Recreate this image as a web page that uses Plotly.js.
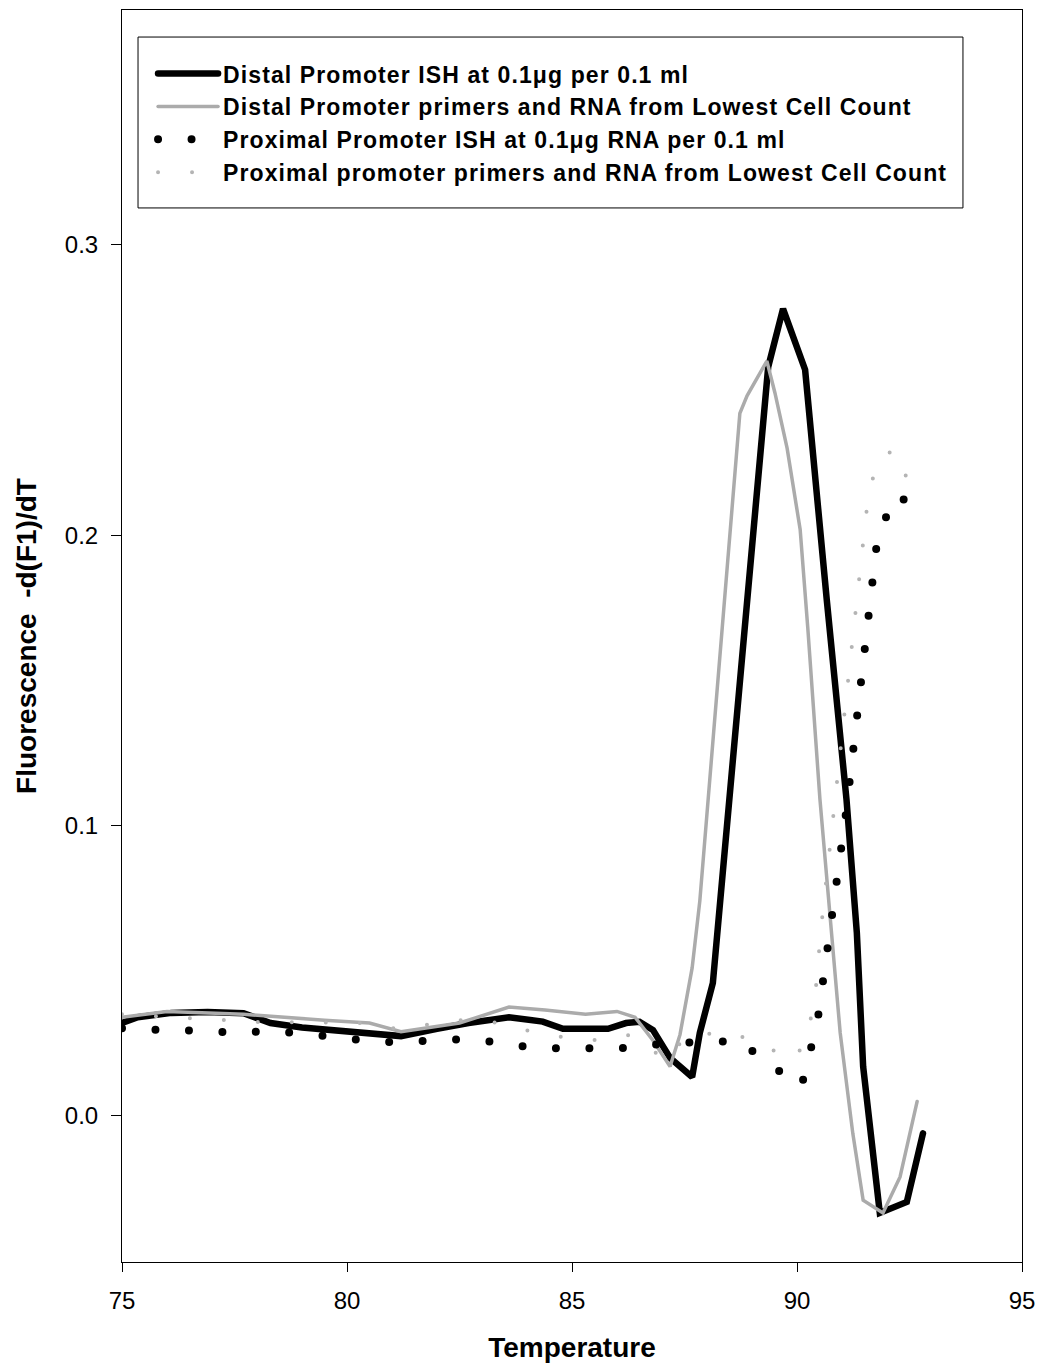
<!DOCTYPE html>
<html>
<head>
<meta charset="utf-8">
<script src="https://cdn.plot.ly/plotly-3.0.1.min.js"></script>
<style>
  html, body { margin: 0; padding: 0; background: #fff; }
  #chart { width: 1037px; height: 1365px; }
  path.js-line { stroke-linecap: round; }
  .legendtext { letter-spacing: 1.1px; }
</style>
</head>
<body>
<div id="chart"></div>
<script>
// Series 1: Distal Promoter ISH at 0.1 µg per 0.1 ml
const distalIshTemp = [75.0, 75.35, 76.1, 76.9, 77.7, 78.3, 79.0, 79.8, 80.5, 81.2, 82.0, 82.7, 83.6, 84.35, 84.8, 85.8, 86.2, 86.5, 86.8, 87.18, 87.67, 87.84, 88.13, 89.36, 89.69, 90.18, 90.66, 90.93, 91.1, 91.33, 91.47, 91.84, 92.44, 92.8];
const distalIshVal  = [0.032, 0.034, 0.0355, 0.0358, 0.0354, 0.032, 0.0305, 0.0296, 0.0285, 0.0275, 0.030, 0.032, 0.034, 0.0325, 0.030, 0.030, 0.032, 0.0324, 0.0296, 0.020, 0.0134, 0.0286, 0.0458, 0.258, 0.278, 0.257, 0.178, 0.132, 0.109, 0.063, 0.017, -0.0334, -0.0296, -0.006];

// Series 2: Distal Promoter primers and RNA from Lowest Cell Count
const distalLowTemp = [75.0, 76.0, 77.7, 78.5, 79.5, 80.5, 81.2, 82.5, 83.6, 84.4, 85.3, 86.0, 86.4, 86.8, 87.18, 87.4, 87.67, 87.84, 88.4, 88.73, 88.89, 89.33, 89.51, 89.78, 90.07, 90.24, 90.51, 90.8, 90.96, 91.24, 91.47, 91.91, 92.29, 92.67];
const distalLowVal  = [0.034, 0.036, 0.035, 0.034, 0.033, 0.032, 0.029, 0.032, 0.0375, 0.0365, 0.035, 0.036, 0.034, 0.026, 0.017, 0.028, 0.051, 0.074, 0.178, 0.242, 0.248, 0.260, 0.249, 0.230, 0.202, 0.168, 0.109, 0.058, 0.0286, -0.006, -0.029, -0.0334, -0.021, 0.005];

// Series 3: Proximal Promoter ISH at 0.1 µg RNA per 0.1 ml
const proxIshTemp = [75.0, 75.3, 76.1, 76.8, 77.6, 78.3, 79.0, 79.8, 80.5, 81.2, 82.0, 82.8, 83.5, 84.2, 85.0, 85.7, 86.4, 87.2, 87.96, 88.7, 89.4, 90.1, 90.45, 91.09, 91.78, 92.07, 92.33, 92.6];
const proxIshVal  = [0.0302, 0.0299, 0.0294, 0.0294, 0.0285, 0.0294, 0.0285, 0.0271, 0.0258, 0.0253, 0.0262, 0.0264, 0.025, 0.0233, 0.0233, 0.0231, 0.0234, 0.0255, 0.0251, 0.0262, 0.0176, 0.0103, 0.032, 0.1044, 0.198, 0.210, 0.214, 0.2026];

// Series 4: Proximal promoter primers and RNA from Lowest Cell Count
const proxLowTemp = [75.0, 78.0, 80.4, 81.1, 82.5, 83.5, 84.1, 84.84, 85.62, 86.33, 86.73, 87.02, 87.6, 88.58, 89.29, 89.96, 90.24, 90.4, 90.53, 91.02, 91.6, 91.89, 92.24, 92.49];
const proxLowVal  = [0.035, 0.0324, 0.032, 0.030, 0.033, 0.032, 0.029, 0.027, 0.026, 0.028, 0.024, 0.019, 0.028, 0.0286, 0.0238, 0.0193, 0.0286, 0.0406, 0.064, 0.134, 0.216, 0.228, 0.229, 0.217];

const seriesNames = [
  'Distal Promoter ISH at 0.1\u03bcg per 0.1 ml',
  'Distal Promoter primers and RNA from Lowest Cell Count',
  'Proximal Promoter ISH at 0.1\u03bcg RNA per 0.1 ml',
  'Proximal promoter primers and RNA from Lowest Cell Count'
];

const xTickVals = [75, 80, 85, 90, 95];
const yTickVals = [0.0, 0.1, 0.2, 0.3];

const traces = [
  { x: distalIshTemp, y: distalIshVal, name: seriesNames[0], mode: 'lines',
    line: { color: '#000000', width: 6.5 } },
  { x: distalLowTemp, y: distalLowVal, name: seriesNames[1], mode: 'lines',
    line: { color: '#ababab', width: 3.5 } },
  { x: proxIshTemp, y: proxIshVal, name: seriesNames[2], mode: 'lines',
    line: { color: '#000000', width: 8, dash: '0px,33.5px' } },
  { x: proxLowTemp, y: proxLowVal, name: seriesNames[3], mode: 'lines',
    line: { color: '#b4b4b4', width: 4, dash: '0px,34px' } }
];

const fontFam = '"Liberation Sans", Arial, sans-serif';

const layout = {
  width: 1037, height: 1365,
  margin: { l: 122, r: 15, t: 10, b: 103 },
  paper_bgcolor: '#ffffff', plot_bgcolor: '#ffffff',
  font: { family: fontFam, color: '#000000', size: 24 },
  showlegend: true,
  legend: {
    x: 0.0345, y: 0.9664, xanchor: 'left', yanchor: 'top',
    bgcolor: 'rgba(0,0,0,0)', borderwidth: 0,
    itemwidth: 60,
    font: { family: fontFam, size: 23, color: '#000000', weight: 'bold' },
    traceorder: 'normal'
  },
  shapes: [{
    type: 'rect', xref: 'paper', yref: 'paper',
    x0: 0.0178, x1: 0.9344, y0: 0.8419, y1: 0.9784,
    line: { color: '#000000', width: 1 }, fillcolor: 'rgba(0,0,0,0)'
  }],
  xaxis: {
    range: [75, 95], tickvals: xTickVals, ticktext: xTickVals.map(String),
    showgrid: false, zeroline: false,
    showline: true, mirror: true, linecolor: '#000000', linewidth: 1,
    ticks: 'outside', ticklen: 9, tickwidth: 1, tickcolor: '#000000',
    tickfont: { family: fontFam, size: 24 },
    ticklabelstandoff: 8,
    title: { text: 'Temperature', font: { family: fontFam, size: 28, weight: 'bold' }, standoff: 24 }
  },
  yaxis: {
    range: [-0.0503, 0.3809], tickvals: yTickVals, ticktext: yTickVals.map(v => v.toFixed(1)),
    showgrid: false, zeroline: false,
    showline: true, mirror: true, linecolor: '#000000', linewidth: 1,
    ticks: 'outside', ticklen: 10, tickwidth: 1, tickcolor: '#000000',
    tickfont: { family: fontFam, size: 24 },
    ticklabelstandoff: 8,
    title: { text: 'Fluorescence \u00a0-d(F1)/dT', font: { family: fontFam, size: 28, weight: 'bold' }, standoff: 20 }
  }
};

Plotly.newPlot('chart', traces, layout, { displayModeBar: false, staticPlot: true });
</script>
</body>
</html>
